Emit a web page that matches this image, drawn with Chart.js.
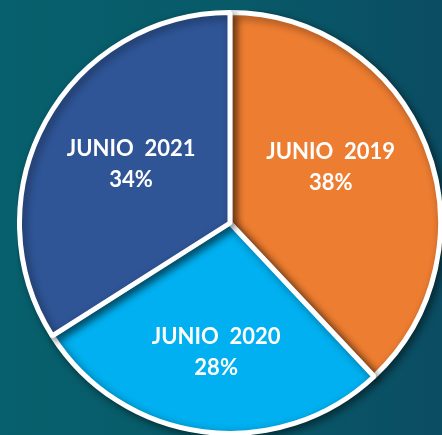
<!DOCTYPE html>
<html lang="es">
<head>
    <meta charset="UTF-8">
    <title>Junio</title>
    <script src="https://cdn.jsdelivr.net/npm/chart.js"></script>
    <style>
        html, body {
            margin: 0;
            padding: 0;
            width: 442px;
            height: 435px;
            overflow: hidden;
            background: linear-gradient(90deg, #07606d 0%, #085a69 50%, #0b4d63 100%);
        }
        .wrap {
            position: absolute;
            left: 17px;
            top: 10px;
            width: 426px;
            height: 426px;
        }
    </style>
</head>
<body>
    <div class="wrap">
        <canvas id="pie"></canvas>
    </div>

    <script>
        const labels = ["JUNIO 2019", "JUNIO 2020", "JUNIO 2021"];
        const values = [38, 28, 34];
        const colors = ["#ed7d31", "#00b0f0", "#2f5597"];

        // label placement tweaks (angle nudge in degrees, fraction of radius)
        const labelPlace = [
            { dAngle: -8, r: 0.55 },
            { dAngle: -1, r: 0.61 },
            { dAngle: 2.5, r: 0.55 }
        ];

        const total = values.reduce((a, b) => a + b, 0);

        const shadow = {
            id: "shadow",
            beforeDatasetsDraw(chart) {
                const ctx = chart.ctx;
                ctx.save();
                ctx.shadowColor = "rgba(0,0,0,0.45)";
                ctx.shadowBlur = 8;
                ctx.shadowOffsetX = 3;
                ctx.shadowOffsetY = 3;
            },
            afterDatasetsDraw(chart) {
                chart.ctx.restore();
            }
        };

        const sliceLabels = {
            id: "sliceLabels",
            afterDatasetsDraw(chart) {
                const ctx = chart.ctx;
                const arcs = chart.getDatasetMeta(0).data;
                ctx.save();
                ctx.fillStyle = "#ffffff";
                ctx.font = "bold 22px Lato";
                ctx.textAlign = "center";
                ctx.textBaseline = "alphabetic";
                arcs.forEach((arc, i) => {
                    const p = arc.getProps(["x", "y", "startAngle", "endAngle", "outerRadius"], true);
                    const mid = (p.startAngle + p.endAngle) / 2 + labelPlace[i].dAngle * Math.PI / 180;
                    const d = p.outerRadius * labelPlace[i].r;
                    const cx = p.x + Math.cos(mid) * d;
                    const cy = p.y + Math.sin(mid) * d;
                    const pct = Math.round(values[i] / total * 100) + "%";
                    ctx.fillText(labels[i].replace(" ", "  "), cx, cy - 7);
                    ctx.fillText(pct, cx, cy + 24);
                });
                ctx.restore();
            }
        };

        new Chart(document.getElementById("pie"), {
            type: "pie",
            data: {
                labels: labels,
                datasets: [{
                    data: values,
                    backgroundColor: colors,
                    borderColor: "#ffffff",
                    borderWidth: 5
                }]
            },
            options: {
                responsive: true,
                maintainAspectRatio: false,
                animation: false,
                layout: { padding: 0 },
                plugins: {
                    legend: { display: false },
                    tooltip: { enabled: false }
                }
            },
            plugins: [shadow, sliceLabels]
        });
    </script>
</body>
</html>
